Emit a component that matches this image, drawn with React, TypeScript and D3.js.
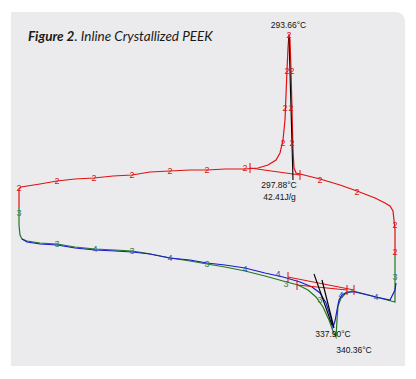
import React from "react";
import * as d3 from "d3";

// Temperature (°C) and heat flow (mW) for each scan
const redT = [24, 24, 24, 26, 45, 62, 80, 99, 118, 137, 155, 175, 195, 212, 230, 250, 263, 273, 281, 285, 288, 290, 291, 292, 293, 294, 295, 296, 297, 298, 299, 301, 305, 325, 345, 362, 380, 390, 395, 398, 400, 400];
const redHF = [13.3, 14.4, 15.1, 15.3, 15.6, 15.9, 16.1, 16.2, 16.4, 16.5, 16.8, 16.9, 17.0, 17.0, 17.1, 17.1, 17.2, 17.5, 18.0, 18.7, 20.0, 22.0, 24.5, 27.0, 29.2, 30.6, 30.0, 27.0, 23.0, 19.0, 17.2, 16.7, 16.6, 16.1, 15.5, 14.9, 14.2, 13.7, 13.4, 12.9, 11.0, 8.4];

const greenT = [24, 24, 25, 27, 32, 45, 62, 80, 100, 120, 137, 150, 165, 175, 195, 212, 230, 250, 270, 288, 303, 313, 321, 328, 334, 338, 341, 342, 343, 346, 350, 357, 370, 381, 400, 400];
const greenHF = [13.3, 11.5, 10.5, 10.1, 9.9, 9.7, 9.6, 9.3, 9.1, 9.0, 8.9, 8.7, 8.4, 8.2, 7.9, 7.6, 7.3, 6.9, 6.4, 5.9, 5.5, 5.0, 4.3, 3.3, 2.0, 0.9, 0.3, 2.0, 3.4, 4.2, 4.6, 4.9, 4.6, 4.3, 3.8, 8.4];

const blueT = [27, 32, 45, 62, 80, 100, 120, 137, 155, 175, 195, 212, 230, 250, 270, 288, 305, 317, 325, 331, 336, 338, 340, 342, 344, 347, 352, 360, 381, 395, 400, 401];
const blueHF = [10.1, 9.8, 9.6, 9.5, 9.2, 9.0, 8.9, 8.8, 8.6, 8.2, 8.0, 7.7, 7.5, 7.2, 6.7, 6.3, 5.8, 5.3, 4.7, 3.7, 2.2, 1.3, 1.9, 3.0, 4.0, 4.5, 4.8, 4.8, 4.3, 4.0, 5.0, 5.7];

// Curve-number markers
const redMarkT = [24, 62, 99, 137, 175, 212, 250, 288, 290, 292, 294, 297, 296, 297, 325, 362, 400, 400];
const redMarkHF = [15.2, 15.9, 16.2, 16.5, 16.9, 17.0, 17.2, 19.7, 23.2, 26.9, 30.5, 26.9, 23.2, 19.7, 16.0, 14.8, 11.5, 8.8];
const greenMarkT = [24, 62, 137, 212, 291, 325, 400];
const greenMarkHF = [12.7, 9.6, 8.9, 7.6, 5.6, 4.0, 6.3];
const blueMarkT = [100, 175, 250, 283, 346, 381];
const blueMarkHF = [9.1, 8.2, 7.1, 6.6, 4.5, 4.3];

// Analysis baselines [t1, hf1, t2, hf2]
const redBaselines = [
  [255, 17.2, 305, 16.5],
  [293, 6.3, 359, 5.0],
  [302, 5.5, 352, 5.0],
];
const blackLines = [
  [294, 30.3, 298, 16.0],
  [319, 6.6, 337, 1.5],
  [327, 6.0, 339, 1.2],
];

const labelText = ["293.66°C", "297.88°C", "42.41J/g", "337.90°C", "340.36°C"];
const labelT = [293.5, 284, 284.5, 338, 359];
const labelHF = [31.2, 15.2, 14.0, 0.3, -1.3];

const W = 416;
const H = 379;

export default function App() {
  const x = d3.scaleLinear().domain([20, 400]).range([15, 395]);
  const y = d3.scaleLinear().domain([0, 31]).range([340, 30]);

  const line = d3
    .line<[number, number]>()
    .x((d) => x(d[0]))
    .y((d) => y(d[1]))
    .curve(d3.curveLinear);

  const zip = (a: number[], b: number[]) => a.map((v, i) => [v, b[i]] as [number, number]);

  const red = "#e01010";
  const green = "#1f7a1f";
  const blue = "#1a1acc";

  const panelL = 11, panelT = 12, panelR = 405, panelB = 366, rad = 10;
  const panelPath = `M${panelL},${panelT} H${panelR - rad} Q${panelR},${panelT} ${panelR},${panelT + rad} V${panelB} H${panelL} Z`;

  const markers = (ts: number[], hs: number[], color: string, glyph: string) =>
    ts.map((t, i) => (
      <text
        key={glyph + i}
        x={x(t)}
        y={y(hs[i])}
        dy="0.35em"
        textAnchor="middle"
        fontSize={9}
        fontFamily="Liberation Sans, Arial, sans-serif"
        fill={color}
      >
        {glyph}
      </text>
    ));

  return (
    <svg width={W} height={H} style={{ position: "absolute", left: 0, top: 0 }}>
      <rect width={W} height={H} fill="#ffffff" />
      <path d={panelPath} fill="#ebebed" />
      <text x={28} y={41} fontFamily="Lato, 'Open Sans', sans-serif" fontSize={13.5} fill="#1a1a1a" fontStyle="italic">
        <tspan fontWeight="bold">Figure 2</tspan>
        <tspan>. Inline Crystallized PEEK</tspan>
      </text>

      <path d={line(zip(greenT, greenHF)) || ""} fill="none" stroke={green} strokeWidth={1.2} />
      <path d={line(zip(blueT, blueHF)) || ""} fill="none" stroke={blue} strokeWidth={1.2} />
      <path d={line(zip(redT, redHF)) || ""} fill="none" stroke={red} strokeWidth={1.2} />

      {redBaselines.map((b, i) => (
        <g key={"rb" + i} stroke={red} strokeWidth={1}>
          <line x1={x(b[0])} y1={y(b[1])} x2={x(b[2])} y2={y(b[3])} />
          <line x1={x(b[0])} y1={y(b[1]) - 5} x2={x(b[0])} y2={y(b[1]) + 5} />
          <line x1={x(b[2])} y1={y(b[3]) - 5} x2={x(b[2])} y2={y(b[3]) + 5} />
        </g>
      ))}
      {blackLines.map((b, i) => (
        <line key={"bl" + i} x1={x(b[0])} y1={y(b[1])} x2={x(b[2])} y2={y(b[3])} stroke="#000" strokeWidth={1.1} />
      ))}

      {markers(greenMarkT, greenMarkHF, "#2f7f5a", "3")}
      {markers(blueMarkT, blueMarkHF, "#3050b0", "4")}
      {markers(redMarkT, redMarkHF, red, "2")}

      {labelText.map((t, i) => (
        <text
          key={"lab" + i}
          x={x(labelT[i])}
          y={y(labelHF[i])}
          textAnchor="middle"
          fontSize={8.5}
          fontFamily="Liberation Sans, Arial, sans-serif"
          fill="#111"
        >
          {t}
        </text>
      ))}
    </svg>
  );
}
